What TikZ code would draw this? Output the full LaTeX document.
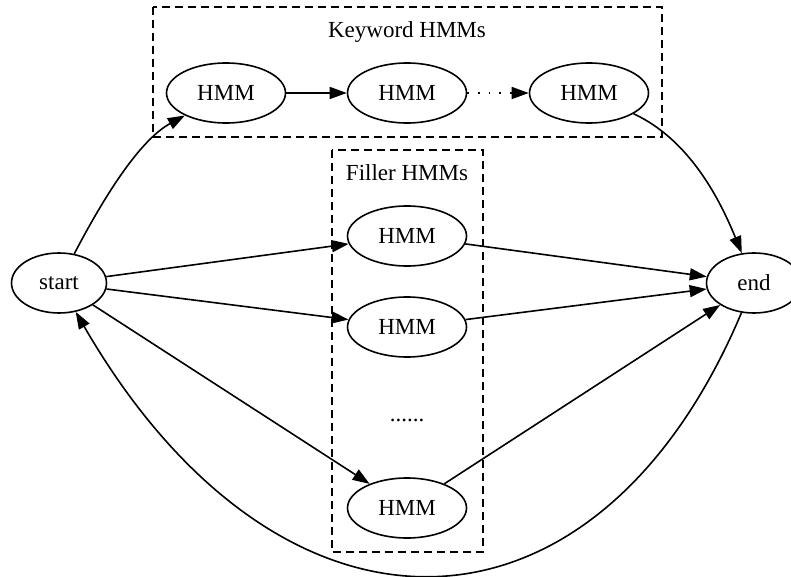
\documentclass[tikz,border=0pt]{standalone}
\usepackage{fontspec}
\setmainfont{Liberation Serif}
\usetikzlibrary{arrows.meta,shapes.geometric}
\begin{document}
\begin{tikzpicture}[x=1pt,y=-1pt,
  font=\fontsize{23}{27}\selectfont,
  line width=1.6pt,
  state/.style={draw,ellipse,inner sep=0pt,minimum width=119pt,minimum height=60pt},
  endpt/.style={draw,ellipse,inner sep=0pt,minimum width=95pt,minimum height=60pt},
  cluster/.style={draw,dash pattern=on 8pt off 5pt,line width=1.4pt},
  edge/.style={-{Triangle[length=17pt,width=12pt]}},
  dotedge/.style={edge,dash pattern=on 1.7pt off 9pt}]
\useasboundingbox (0,0) rectangle (791,577);

% clusters
\draw[cluster] (153,7) rectangle (662,137);
\draw[cluster] (332,150) rectangle (483,552);
\node (kwlabel) at (407,32) {Keyword HMMs};
\node (fllabel) at (407,173) {Filler HMMs};

% terminal nodes
\node[endpt] (start) at (59,283) {start};
\node[endpt] (end) at (754,283) {end};

% keyword models
\node[state] (k1) at (226,93) {HMM};
\node[state] (k2) at (407,93) {HMM};
\node[state] (k3) at (589,93) {HMM};

% filler models
\node[state] (f1) at (407,236) {HMM};
\node[state] (f2) at (407,327) {HMM};
\node (fdots) at (407,420) {......};
\node[state] (f3) at (407,508) {HMM};

% keyword path
\draw[edge] (start) .. controls (105,195) and (140,140) .. (k1);
\draw[edge] (k1) -- (k2);
\draw[dotedge] (k2) -- (k3);
\draw[edge] (k3) .. controls (690,140) and (720,200) .. (end);

% filler paths
\draw[edge] (start) -- (f1);
\draw[edge] (start) -- (f2);
\draw[edge] (start) -- (f3);
\draw[edge] (f1) -- (end);
\draw[edge] (f2) -- (end);
\draw[edge] (f3) -- (end);

% loop back
\draw[edge] (end) .. controls (595,660) and (280,665) .. (start);
\end{tikzpicture}
\end{document}
